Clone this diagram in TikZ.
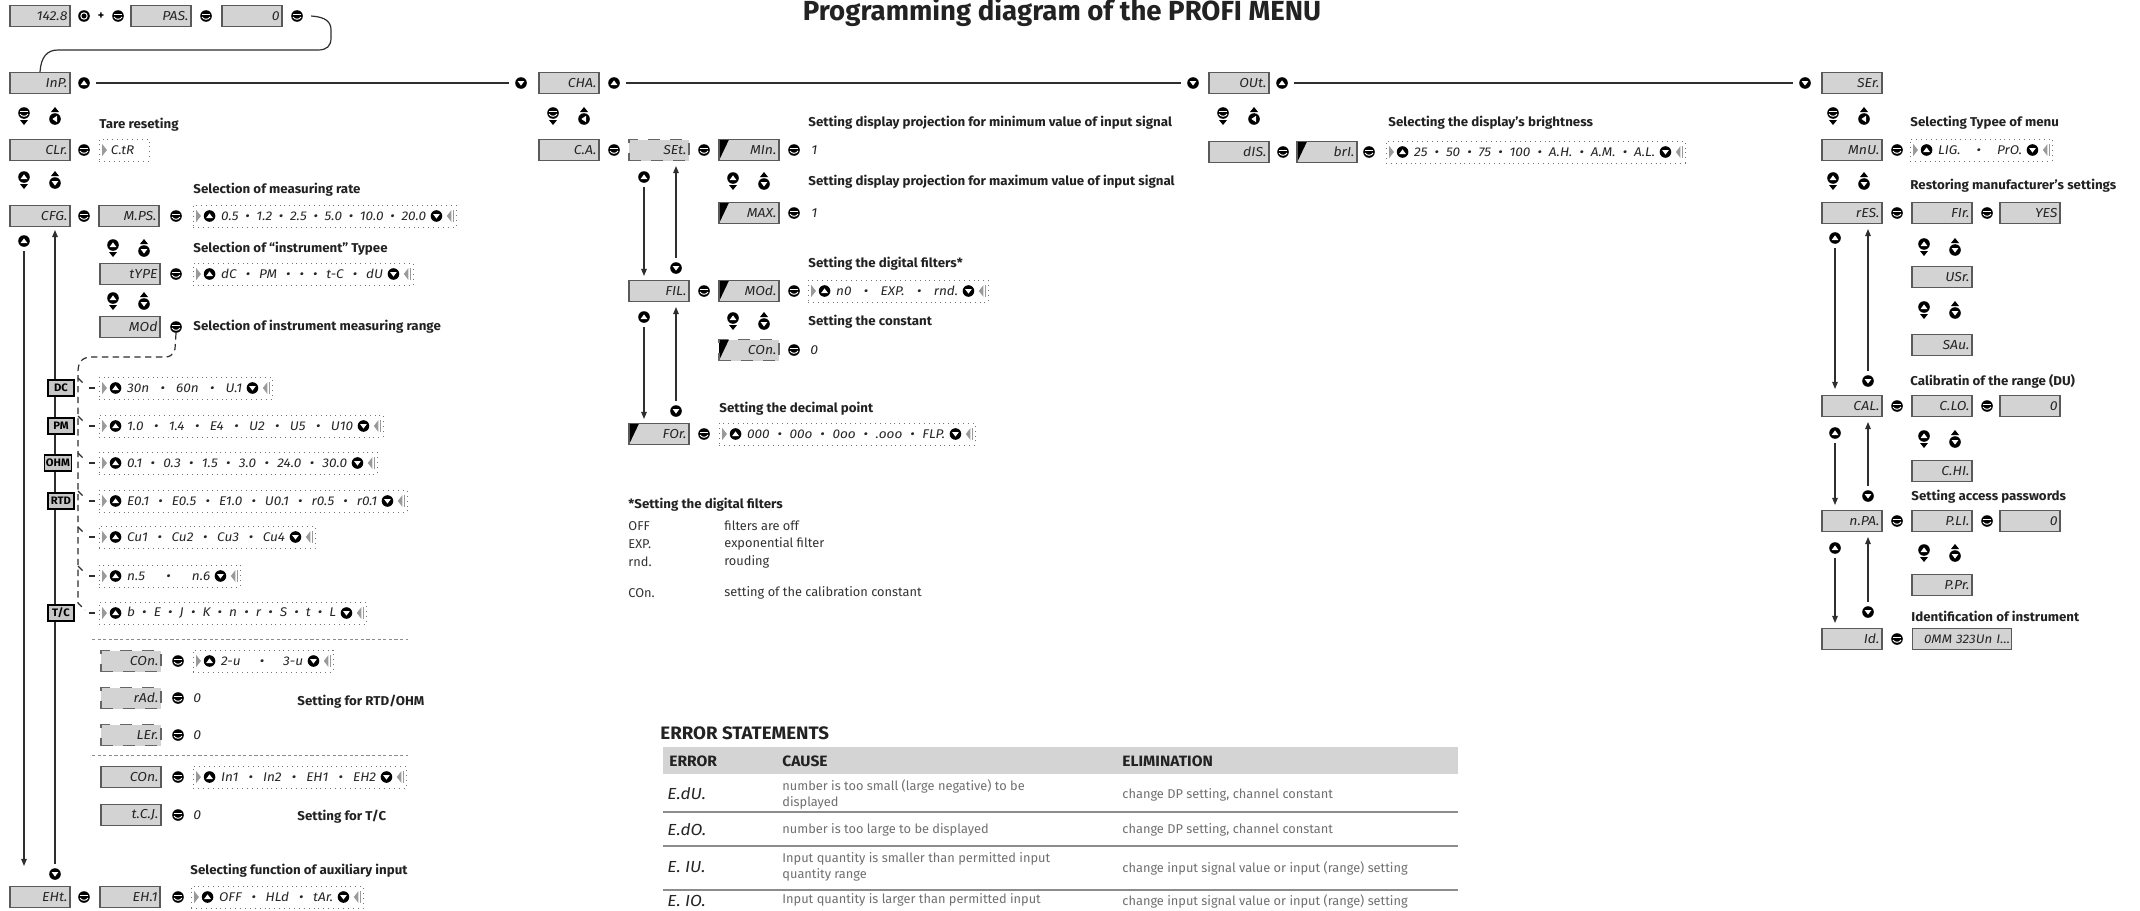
\documentclass[tikz,border=0pt]{standalone}
\usepackage{fontspec}
\setmainfont{Fira Sans}
\newfontfamily\labf{Fira Sans}[FakeStretch=1.04]
\newfontfamily\segf{Fira Sans}[FakeStretch=1.08]
\newfontfamily\tabf{Fira Sans}
\usetikzlibrary{arrows.meta,fit}

\definecolor{dispfill}{HTML}{D3D3D3}
\definecolor{dispedge}{HTML}{5A5A5A}
\definecolor{linec}{HTML}{2E2E2E}
\definecolor{txtgray}{HTML}{707070}
\definecolor{hdrgray}{HTML}{D4D4D4}
\definecolor{optgray}{HTML}{9A9A9A}
\definecolor{labc}{HTML}{222222}

\newcommand\sepb{\hfill•\hfill}

\tikzset{
  disp/.style={draw=dispedge, fill=dispfill, line width=0.55pt, minimum width=30pt, minimum height=10.5pt, inner sep=0pt, text width=27.5pt, align=right, font=\segf\itshape\fontsize{6.5}{7}\selectfont, text=black!85},
  ddisp/.style={disp, draw=black!60, dash pattern=on 6pt off 5pt},
  corner/.style={path picture={\fill[black] (path picture bounding box.north west) -- ++(5pt,0pt) -- (path picture bounding box.south west) -- cycle;}},
  btn/.style={circle, fill=black, minimum size=5.8pt, inner sep=0pt},
  bup/.style={btn, path picture={\fill[white] ([shift={(-1.7pt,-1pt)}]path picture bounding box.center) -- ([shift={(1.7pt,-1pt)}]path picture bounding box.center) -- ([shift={(0pt,1.3pt)}]path picture bounding box.center) -- cycle;}},
  bdown/.style={btn, path picture={\fill[white] ([shift={(-1.7pt,1pt)}]path picture bounding box.center) -- ([shift={(1.7pt,1pt)}]path picture bounding box.center) -- ([shift={(0pt,-1.3pt)}]path picture bounding box.center) -- cycle;}},
  bleft/.style={btn, path picture={\fill[white] ([shift={(1pt,-1.6pt)}]path picture bounding box.center) -- ([shift={(1pt,1.6pt)}]path picture bounding box.center) -- ([shift={(-1.3pt,0pt)}]path picture bounding box.center) -- cycle;}},
  bent/.style={btn, path picture={\draw[white, line width=0.5pt] ([shift={(-2pt,0.6pt)}]path picture bounding box.center) -- ([shift={(2pt,0.6pt)}]path picture bounding box.center); \draw[white, line width=0.5pt] ([shift={(-2pt,-0.5pt)}]path picture bounding box.center) .. controls ([shift={(-1.3pt,-2pt)}]path picture bounding box.center) and ([shift={(1.3pt,-2pt)}]path picture bounding box.center) .. ([shift={(2pt,-0.5pt)}]path picture bounding box.center);}},
  bring/.style={btn, path picture={\draw[white, line width=0.5pt] (path picture bounding box.center) circle (1.6pt);}},
  lab/.style={font=\labf\bfseries\fontsize{6.4}{7}\selectfont, text=labc, anchor=west, inner sep=0pt},
  val/.style={font=\segf\itshape\fontsize{6.5}{7}\selectfont, text=black!85, anchor=west, inner sep=0pt},
  optb/.style={draw=black!55, dotted, line width=0.45pt, inner sep=0pt},
  opttext/.style={font=\segf\itshape\fontsize{6.3}{7}\selectfont, text=black!85, inner sep=0pt},
  tag/.style={draw=black, line width=0.8pt, fill=black!22, font=\labf\bfseries\fontsize{5.4}{6}\selectfont, inner sep=0.8pt, minimum height=8pt, minimum width=13pt},
  conn/.style={draw=linec, line width=0.6pt},
  arr/.style={conn, -{Triangle[length=3.6pt,width=2.8pt]}},
  dconn/.style={draw=linec, line width=0.6pt, dash pattern=on 3.2pt off 2.2pt},
  sepl/.style={draw=black!45, line width=0.5pt, dash pattern=on 1.6pt off 1.2pt},
  note/.style={font=\tabf\fontsize{6.4}{7}\selectfont, text=black!80, anchor=west, inner sep=0pt},
  tabt/.style={font=\tabf\fontsize{6.4}{8}\selectfont, text=txtgray, anchor=west, inner sep=0pt, align=left},
  tabh/.style={font=\labf\bfseries\fontsize{7.5}{8}\selectfont, text=labc, anchor=west, inner sep=0pt},
  tabc/.style={font=\segf\itshape\fontsize{8}{9}\selectfont, text=black!85, anchor=west, inner sep=0pt},
  pairA/.pic={
    \node[bent] (-a) at (0,-5) {};
    \fill[black] (-4,2) -- (4,2) -- (0,7) -- cycle;
    \fill[black] (27,-6) -- (35,-6) -- (31,-11) -- cycle;
    \node[bleft] (-b) at (31,1) {};
  },
  pairB/.pic={
    \node[bup] (-a) at (0,-5) {};
    \fill[black] (-4,2) -- (4,2) -- (0,7) -- cycle;
    \fill[black] (27,-6) -- (35,-6) -- (31,-11) -- cycle;
    \node[bdown] (-b) at (31,1) {};
  },
}

% name, x1, x2, y, text
\newcommand\optbox[5]{%
  \coordinate (#1-nw) at (#2,#4-11);
  \coordinate (#1-se) at (#3,#4+11);
  \node[optb, fit=(#1-nw)(#1-se)] (#1) {};
  \fill[optgray] ([xshift=1.8pt,yshift=3pt]#1.west) -- ([xshift=4.2pt]#1.west) -- ([xshift=1.8pt,yshift=-3pt]#1.west) -- cycle;
  \node[bup] (#1-u) at ([xshift=8.5pt]#1.west) {};
  \pgfmathsetmacro\otw{(#3-#2)*0.5-29}
  \node[opttext, anchor=west] (#1-t) at ([xshift=2.5pt]#1-u.east) {\makebox[\otw pt][l]{#5}};
  \node[bdown] (#1-d) at ([xshift=-10pt]#1.east) {};
  \fill[optgray] ([xshift=-2.5pt,yshift=3pt]#1.east) -- ([xshift=-4.8pt]#1.east) -- ([xshift=-2.5pt,yshift=-3pt]#1.east) -- cycle;
  \draw[optgray, line width=0.5pt] ([xshift=-1.6pt,yshift=3pt]#1.east) -- ([xshift=-1.6pt,yshift=-3pt]#1.east);
}
% branch of the range list: name, y, x2, text
\newcommand\rangeitem[4]{%
  \optbox{#1}{99}{#3}{#2}{#4}
  \draw[dconn] (78,#2-10) -- (85,#2-3);
  \coordinate (#1-s) at (89,#2);
  \draw[dconn] (#1-s) -- (#1.west);
}

\begin{document}
\begin{tikzpicture}[x=0.5pt,y=-0.5pt]
\useasboundingbox (0,0) rectangle (2140,910);
\fill[white] (0,0) rectangle (2140,910);

% ---------- title
\node[font=\bfseries\fontsize{13.8}{15}\selectfont, text=labc, anchor=base, inner sep=0pt] (title) at (1062,20) {Programming diagram of the PROFI MENU};

% ---------- entry line
\node[disp] (d1428) at (40,16) {142.8};
\node[bring] (bR) at (84,16) {};
\node[font=\bfseries\fontsize{6}{6}\selectfont, inner sep=0pt] (plus) at (101,16) {+};
\node[bent] (bE0) at (118,16) {};
\node[disp] (dPAS) at (161,16) {PAS.};
\node[bent] (bE1) at (206,16) {};
\node[disp] (dZ) at (252,16) {0};
\node[bent] (bE2) at (297,16) {};

% ---------- main row
\node[disp] (dInP) at (40,83) {InP.};
\node[bup] (bInPu) at (84,83) {};
\node[bdown] (bCHAd) at (521,83) {};
\node[disp] (dCHA) at (569,83) {CHA.};
\node[bup] (bCHAu) at (614,83) {};
\node[bdown] (bOUTd) at (1193,83) {};
\node[disp] (dOUT) at (1239,83) {OUt.};
\node[bup] (bOUTu) at (1282,83) {};
\node[bdown] (bSERd) at (1805,83) {};
\node[disp] (dSER) at (1852,83) {SEr.};

\draw[conn] ([xshift=4pt]bE2.east) .. controls (326,17) and (331,22) .. (331,30) -- (331,38) .. controls (331,46) and (327,50) .. (318,50) -- (58,50) .. controls (47,50) and (41,57) .. (dInP.north);
\draw[conn, shorten <=3pt, shorten >=3pt] (bInPu) -- (bCHAd);
\draw[conn, shorten <=3pt, shorten >=3pt] (bCHAu) -- (bOUTd);
\draw[conn, shorten <=3pt, shorten >=3pt] (bOUTu) -- (bSERd);

% ================= INP column
\pic (pA1) at (24,118) {pairA};
\node[lab] (lTare) at (99,125) {Tare reseting};
\node[disp] (dCLr) at (40,150) {CLr.};
\node[bent] (bCLr) at (84,150) {};
\coordinate (oCTR-nw) at (99,139);
\coordinate (oCTR-se) at (149,161);
\node[optb, fit=(oCTR-nw)(oCTR-se)] (oCTR) {};
\fill[optgray] ([xshift=1.8pt,yshift=3pt]oCTR.west) -- ([xshift=4.2pt]oCTR.west) -- ([xshift=1.8pt,yshift=-3pt]oCTR.west) -- cycle;
\node[opttext, anchor=west] (oCTR-t) at ([xshift=6pt]oCTR.west) {C.tR};

\pic (pB1) at (24,182) {pairB};
\node[lab] (lRate) at (193,190) {Selection of measuring rate};
\node[disp] (dCFG) at (40,216) {CFG.};
\node[bent] (bCFG) at (84,216) {};
\node[disp] (dMPS) at (129,216) {M.PS.};
\node[bent] (bMPS) at (176,216) {};
\optbox{oMPS}{193}{456}{216}{0.5\sepb 1.2\sepb 2.5\sepb 5.0\sepb 10.0\sepb 20.0}

\node[bup] (bCFGu) at (24,241) {};
\coordinate (aEXT) at (24,866);
\node[bdown] (bEXTd) at (55,874) {};
\coordinate (aCFG) at (55,230);
\draw[arr, shorten <=2pt] (bCFGu) -- (aEXT);
\draw[arr, shorten <=2pt] (bEXTd) -- (aCFG);

\pic (pB2) at (113,250) {pairB};
\node[lab] (lType) at (193,249) {Selection of “instrument” Typee};
\node[disp] (dTYP) at (130,274) {tYPE};
\node[bent] (bTYP) at (176,274) {};
\optbox{oTYP}{193}{413}{274}{dC\sepb PM\sepb •\sepb t-C\sepb dU}
\pic (pB3) at (113,303) {pairB};
\node[disp] (dMOD) at (130,327) {MOd};
\node[bent] (bMOD) at (176,327) {};
\node[lab] (lRange) at (193,327) {Selection of instrument measuring range};

\draw[dconn] (bMOD.south) -- (175,349) .. controls (172,356) and (170,357) .. (164,357) -- (92,357) .. controls (82,357) and (78,362) .. (78,372) -- (78,603) -- (85,610);

\node[tag] (tDC) at (61,388) {DC};
\node[tag] (tPM) at (61,426) {PM};
\node[tag] (tOHM) at (58,463) {OHM};
\node[tag] (tRTD) at (61,501) {RTD};
\node[tag] (tTC) at (61,613) {T/C};

\rangeitem{oDC}{388}{272}{30n\sepb 60n\sepb U.1}
\rangeitem{oPM}{426}{383}{1.0\sepb 1.4\sepb E4\sepb U2\sepb U5\sepb U10}
\rangeitem{oOHM}{463}{377}{0.1\sepb 0.3\sepb 1.5\sepb 3.0\sepb 24.0\sepb 30.0}
\rangeitem{oRTD}{501}{407}{E0.1\sepb E0.5\sepb E1.0\sepb U0.1\sepb r0.5\sepb r0.1}
\rangeitem{oCU}{537}{315}{Cu1\sepb Cu2\sepb Cu3\sepb Cu4}
\rangeitem{oN}{576}{240}{n.5\sepb n.6}
\optbox{oTC}{99}{366}{613}{b\sepb E\sepb J\sepb K\sepb n\sepb r\sepb S\sepb t\sepb L}
\coordinate (oTC-s) at (89,613);
\draw[dconn] (oTC-s) -- (oTC.west);

\draw[sepl] (92,639) -- (408,639);
\node[ddisp] (dCON1) at (131,661) {COn.};
\node[bent] (bCON1) at (178,661) {};
\optbox{oCON1}{193}{333}{661}{2-u\sepb 3-u}
\node[ddisp] (dRAD) at (131,698) {rAd.};
\node[bent] (bRAD) at (178,698) {};
\node[val] (vRAD) at (193,698) {0};
\node[lab] (lRTD) at (297,702) {Setting for RTD/OHM};
\node[ddisp] (dLER) at (131,735) {LEr.};
\node[bent] (bLER) at (178,735) {};
\node[val] (vLER) at (193,735) {0};
\draw[sepl] (92,755) -- (408,755);
\node[disp] (dCON2) at (131,777) {COn.};
\node[bent] (bCON2) at (178,777) {};
\optbox{oCON2}{193}{406}{777}{In1\sepb In2\sepb EH1\sepb EH2}
\node[disp] (dTCJ) at (131,815) {t.C.J.};
\node[bent] (bTCJ) at (178,815) {};
\node[val] (vTCJ) at (193,815) {0};
\node[lab] (lTC) at (297,817) {Setting for T/C};

\node[lab] (lAux) at (190,871) {Selecting function of auxiliary input};
\node[disp] (dEXT) at (40,897) {EHt.};
\node[bent] (bEXT) at (84,897) {};
\node[disp] (dEX1) at (130,897) {EH.1};
\node[bent] (bEX1) at (178,897) {};
\optbox{oEX1}{191}{363}{897}{OFF\sepb HLd\sepb tAr.}

% ================= CHA column
\pic (pA2) at (553,118) {pairA};
\node[lab] (lMin) at (808,123) {Setting display projection for minimum value of input signal};
\node[disp] (dCA) at (569,150) {C.A.};
\node[bent] (bCA) at (614,150) {};
\node[ddisp] (dSET) at (659,150) {SEt.};
\node[bent] (bSET) at (704,150) {};
\node[disp, corner] (dMIN) at (749,150) {MIn.};
\node[bent] (bMIN) at (794,150) {};
\node[val] (vMIN) at (811,150) {1};

\pic (pB4) at (733,183) {pairB};
\node[lab] (lMax) at (808,182) {Setting display projection for maximum value of input signal};
\node[disp, corner] (dMAX) at (749,213) {MAX.};
\node[bent] (bMAX) at (794,213) {};
\node[val] (vMAX) at (811,213) {1};

\node[bup] (bSETu) at (644,177) {};
\coordinate (aFIL) at (644,276);
\node[bdown] (bFILd) at (676,268) {};
\coordinate (aSET) at (676,166);
\draw[arr, shorten <=2pt] (bSETu) -- (aFIL);
\draw[arr, shorten <=2pt] (bFILd) -- (aSET);

\node[lab] (lFilt) at (808,264) {Setting the digital filters*};
\node[disp] (dFIL) at (659,291) {FIL.};
\node[bent] (bFIL) at (704,291) {};
\node[disp, corner] (dMOD2) at (749,291) {MOd.};
\node[bent] (bMOD2) at (794,291) {};
\optbox{oMOD2}{808}{988}{291}{n0\sepb EXP.\sepb rnd.}

\node[bup] (bFILu) at (644,317) {};
\coordinate (aFOR) at (644,419);
\node[bdown] (bFORd) at (676,411) {};
\coordinate (aFIL2) at (676,307);
\draw[arr, shorten <=2pt] (bFILu) -- (aFOR);
\draw[arr, shorten <=2pt] (bFORd) -- (aFIL2);

\pic (pB5) at (733,323) {pairB};
\node[lab] (lConst) at (808,322) {Setting the constant};
\node[ddisp, corner] (dCON3) at (749,350) {COn.};
\node[bent] (bCON3) at (794,350) {};
\node[val] (vCON3) at (810,350) {0};

\node[lab] (lDec) at (719,409) {Setting the decimal point};
\node[disp, corner] (dFOR) at (659,434) {FOr.};
\node[bent] (bFOR) at (704,434) {};
\optbox{oFOR}{719}{975}{434}{000\sepb 00o\sepb 0oo\sepb .ooo\sepb FLP.}

% notes
\node[lab] (nT) at (628,505) {*Setting the digital filters};
\node[note] (n1a) at (628,526) {OFF};
\node[note] (n1b) at (724,526) {filters are off};
\node[note] (n2a) at (628,544) {EXP.};
\node[note] (n2b) at (724,544) {exponential filter};
\node[note] (n3a) at (628,562) {rnd.};
\node[note] (n3b) at (724,562) {rouding};
\node[note] (n4a) at (628,593) {COn.};
\node[note] (n4b) at (724,593) {setting of the calibration constant};

% ================= OUT column
\pic (pA3) at (1223,118) {pairA};
\node[lab] (lBri) at (1388,123) {Selecting the display’s brightness};
\node[disp] (dDIS) at (1239,152) {dIS.};
\node[bent] (bDIS) at (1283,152) {};
\node[disp, corner] (dBRI) at (1327,152) {brI.};
\node[bent] (bBRI) at (1369,152) {};
\optbox{oBRI}{1386}{1685}{152}{25\sepb 50\sepb 75\sepb 100\sepb A.H.\sepb A.M.\sepb A.L.}

% ================= SER column
\pic (pA4) at (1833,118) {pairA};
\node[lab] (lMenu) at (1910,123) {Selecting Typee of menu};
\node[disp] (dMNU) at (1852,150) {MnU.};
\node[bent] (bMNU) at (1897,150) {};
\optbox{oMNU}{1910}{2052}{150}{LIG.\sepb PrO.}

\pic (pB6) at (1833,183) {pairB};
\node[lab] (lRes) at (1910,186) {Restoring manufacturer’s settings};
\node[disp] (dRES) at (1852,213) {rES.};
\node[bent] (bRES) at (1897,213) {};
\node[disp] (dFIR) at (1942,213) {FIr.};
\node[bent] (bFIR) at (1987,213) {};
\node[disp] (dYES) at (2030,213) {YES};
\pic (pB7) at (1924,249) {pairB};
\node[disp] (dUSR) at (1942,277) {USr.};
\pic (pB8) at (1924,312) {pairB};
\node[disp] (dSAU) at (1942,345) {SAu.};

\node[bup] (bRESu) at (1835,238) {};
\coordinate (aCAL) at (1835,389);
\node[bdown] (bCALd) at (1868,381) {};
\coordinate (aRES) at (1868,229);
\draw[arr, shorten <=2pt] (bRESu) -- (aCAL);
\draw[arr, shorten <=2pt] (bCALd) -- (aRES);

\node[lab] (lCal) at (1910,381) {Calibratin of the range (DU)};
\node[disp] (dCAL) at (1852,406) {CAL.};
\node[bent] (bCAL) at (1897,406) {};
\node[disp] (dCLO) at (1942,406) {C.LO.};
\node[bent] (bCLO) at (1987,406) {};
\node[disp] (dCLOv) at (2030,406) {0};
\pic (pB9) at (1924,441) {pairB};
\node[disp] (dCHI) at (1942,471) {C.HI.};

\node[bup] (bCALu) at (1835,433) {};
\coordinate (aNPA) at (1835,505);
\node[bdown] (bNPAd) at (1868,496) {};
\coordinate (aCAL2) at (1868,422);
\draw[arr, shorten <=2pt] (bCALu) -- (aNPA);
\draw[arr, shorten <=2pt] (bNPAd) -- (aCAL2);

\node[lab] (lPass) at (1911,497) {Setting access passwords};
\node[disp] (dNPA) at (1852,521) {n.PA.};
\node[bent] (bNPA) at (1897,521) {};
\node[disp] (dPLI) at (1942,521) {P.LI.};
\node[bent] (bPLI) at (1987,521) {};
\node[disp] (dPLIv) at (2030,521) {0};
\pic (pB10) at (1924,555) {pairB};
\node[disp] (dPPR) at (1942,585) {P.Pr.};

\node[bup] (bNPAu) at (1835,548) {};
\coordinate (aID) at (1835,623);
\node[bdown] (bIDd) at (1868,612) {};
\coordinate (aNPA2) at (1868,537);
\draw[arr, shorten <=2pt] (bNPAu) -- (aID);
\draw[arr, shorten <=2pt] (bIDd) -- (aNPA2);

\node[lab] (lId) at (1911,616) {Identification of instrument};
\node[disp] (dID) at (1852,639) {Id.};
\node[bent] (bID) at (1897,639) {};
\node[disp, minimum width=49.5pt, text width=48pt, font=\segf\itshape\fontsize{6.2}{7}\selectfont] (dIDv) at (1962,639) {\mbox{0MM 323Un I...}};

% ================= error table
\node[tabh, font=\labf\bfseries\fontsize{9}{10}\selectfont] (tTitle) at (660,733) {ERROR STATEMENTS};
\fill[hdrgray] (663,747) rectangle (1458,774);
\node[tabh] (hErr) at (669,761) {ERROR};
\node[tabh] (hCause) at (782,761) {CAUSE};
\node[tabh] (hElim) at (1122,761) {ELIMINATION};

\node[tabc] (e1) at (667,794) {E.dU.};
\node[tabt] (c1) at (782,794) {number is too small (large negative) to be\\displayed};
\node[tabt] (m1) at (1122,795) {change DP setting, channel constant};
\draw[black!45, line width=1pt] (663,812) -- (1458,812);
\node[tabc] (e2) at (667,830) {E.dO.};
\node[tabt] (c2) at (782,830) {number is too large to be displayed};
\node[tabt] (m2) at (1122,830) {change DP setting, channel constant};
\draw[black!45, line width=1pt] (663,846) -- (1458,846);
\node[tabc] (e3) at (667,867) {E. IU.};
\node[tabt] (c3) at (782,867) {Input quantity is smaller than permitted input\\quantity range};
\node[tabt] (m3) at (1122,868) {change input signal value or input (range) setting};
\draw[black!45, line width=1pt] (663,890) -- (1458,890);
\node[tabc] (e4) at (667,901) {E. IO.};
\node[tabt] (c4) at (782,900) {Input quantity is larger than permitted input};
\node[tabt] (m4) at (1122,901) {change input signal value or input (range) setting};
\end{tikzpicture}
\end{document}
